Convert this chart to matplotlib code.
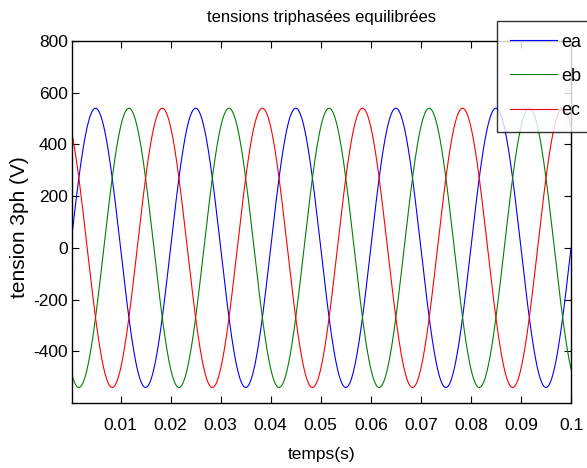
import numpy as np
import matplotlib
matplotlib.use('Agg')
import matplotlib.pyplot as plt

# values: balanced three-phase, 50 Hz, peak ~540 V
amplitude = 540.0
freq = 50.0
phases_deg = [0.0, -120.0, 120.0]
names = ['ea', 'eb', 'ec']
colors = ['#0000ff', '#008000', '#ff0000']
t_start, t_end, n_pts = 0.0003, 0.1, 2000

xticks = [0.01, 0.02, 0.03, 0.04, 0.05, 0.06, 0.07, 0.08, 0.09, 0.1]
xticklabels = ['0.01', '0.02', '0.03', '0.04', '0.05', '0.06', '0.07', '0.08', '0.09', '0.1']
yticks = [-400, -200, 0, 200, 400, 600, 800]

plt.rcParams['font.family'] = ['Liberation Sans', 'DejaVu Sans']
plt.rcParams['axes.unicode_minus'] = False

fig = plt.figure(figsize=(5.87, 4.68), dpi=100)
ax = fig.add_axes([72 / 587, 1 - 403 / 468, (571 - 72) / 587, (403 - 41) / 468])

t = np.linspace(t_start, t_end, n_pts)
for ph, name, c in zip(phases_deg, names, colors):
    e = amplitude * np.sin(2 * np.pi * freq * t + np.deg2rad(ph))
    ax.plot(t, e, color=c, linewidth=0.8, label=name)

ax.set_xlim(t_start, t_end)
ax.set_ylim(-600, 800)
ax.set_xticks(xticks)
ax.set_xticklabels(xticklabels)
ax.set_yticks(yticks)
ax.tick_params(direction='in', top=True, right=True, length=5, width=0.8,
               labelsize=12.5)
ax.tick_params(axis='x', pad=11)
ax.tick_params(axis='y', pad=3)
for s in ax.spines.values():
    s.set_linewidth(1.0)

ax.set_title('tensions triphasées equilibrées', fontsize=12, pad=14)
ax.set_xlabel('temps(s)', fontsize=12.5, labelpad=10)
fig.text(20 / 587, 1 - 227 / 468, 'tension 3ph (V)', rotation=90,
         ha='center', va='center', fontsize=15)

leg = ax.legend(loc='upper left', bbox_to_anchor=(497 / 587, 1 - 21 / 468),
                bbox_transform=fig.transFigure, borderaxespad=0, fontsize=13,
                handlelength=2.6, handletextpad=0.25, labelspacing=0.95,
                borderpad=0.7, fancybox=False, frameon=True)
leg.get_frame().set_edgecolor('black')
leg.get_frame().set_linewidth(1.0)

fig.savefig('out.png', dpi=100)
